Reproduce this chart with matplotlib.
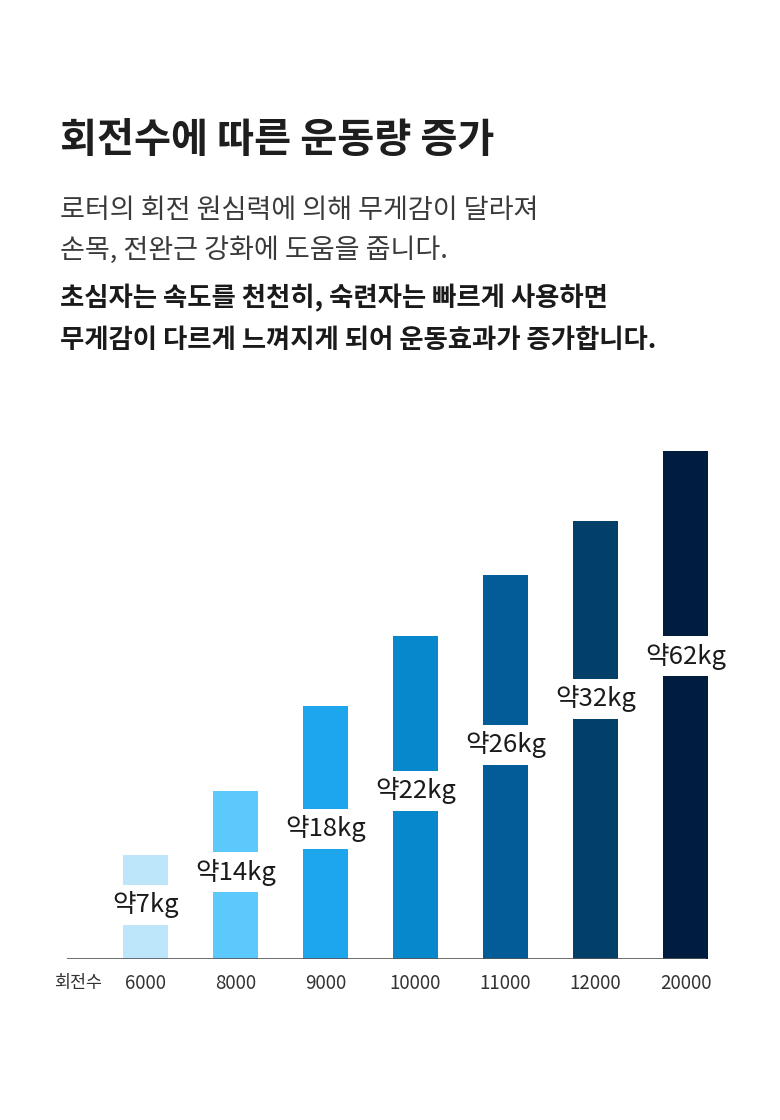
import matplotlib.pyplot as plt

plt.rcParams['font.family'] = ['Noto Sans CJK KR', 'DejaVu Sans']

# data
rpm = ['6000', '8000', '9000', '10000', '11000', '12000', '20000']
bar_height = [104, 168, 253, 323, 384, 438, 508]   # visual bar heights (px)
weight_lbl = ['약7kg', '약14kg', '약18kg', '약22kg', '약26kg', '약32kg', '약62kg']
label_y = [54, 87, 130, 168, 214, 260, 303]         # label centre above baseline
colors = ['#bde6fb', '#5bc9fc', '#1da6ec', '#0888cc', '#015c98', '#023f69', '#001d40']

title = '회전수에 따른 운동량 증가'
body = ['로터의 회전 원심력에 의해 무게감이 달라져',
        '손목, 전완근 강화에 도움을 줍니다.']
body_bold = ['초심자는 속도를 천천히, 숙련자는 빠르게 사용하면',
             '무게감이 다르게 느껴지게 되어 운동효과가 증가합니다.']

W, H = 780, 1120
fig = plt.figure(figsize=(W / 100, H / 100), dpi=100)


def fy(px):
    return 1 - px / H


fig.text(60 / W, fy(140), title, fontsize=29, fontweight='black',
         color='#1e1e1e', va='center', ha='left')
for yy, s in zip([210, 250], body):
    fig.text(60 / W, fy(yy), s, fontsize=19.5, color='#3a3a3a', va='center', ha='left')
for yy, s in zip([298, 340], body_bold):
    fig.text(60 / W, fy(yy), s, fontsize=19, fontweight='bold', color='#1a1a1a',
             va='center', ha='left')

# axes: 1 data unit in y = 1 px, 1 unit in x = 90 px, bar 0 centred at 145.5 px
left_px, right_px, base_px, top_px = 60, 720, 959, 400
ax = fig.add_axes([left_px / W, fy(base_px), (right_px - left_px) / W,
                   (base_px - top_px) / H])
x0 = -(145.5 - left_px) / 90
x1 = (right_px - 145.5) / 90
ax.set_xlim(x0, x1)
ax.set_ylim(0, base_px - top_px)

xs = list(range(len(rpm)))
ax.bar(xs, bar_height, width=0.49, color=colors, zorder=2)
ax.hlines(0, (67 - 145.5) / 90, (706 - 145.5) / 90, color='#555555', lw=1.2, zorder=3)

for x, y, s in zip(xs, label_y, weight_lbl):
    ax.text(x, y, s, ha='center', va='center', fontsize=18.5, color='#1a1a1a', zorder=4,
            bbox=dict(boxstyle='square,pad=0.25', facecolor='white', edgecolor='none'))

ax.set_xticks(xs)
ax.set_xticklabels(rpm, fontsize=13.5, color='#333333')
ax.tick_params(axis='x', length=0, pad=10)
ax.set_yticks([])
for sp in ax.spines.values():
    sp.set_visible(False)

fig.text(78 / W, fy(983), '회전수', fontsize=12.5, color='#333333', ha='center', va='center')

fig.savefig('out.png', dpi=100, facecolor='white')
